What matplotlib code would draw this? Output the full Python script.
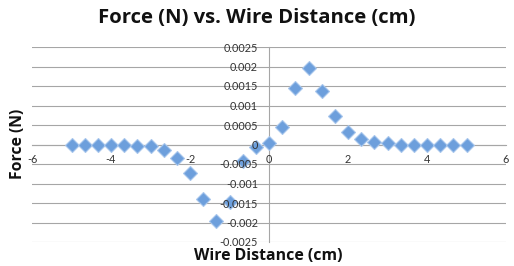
import matplotlib
matplotlib.use("Agg")
import matplotlib.pyplot as plt

plt.rcParams['font.family'] = ['Lato', 'DejaVu Sans']

distance_cm = [-5, -4.667, -4.333, -4, -3.667, -3.333, -3, -2.667, -2.333, -2,
               -1.667, -1.333, -1, -0.667, -0.333, 0, 0.333, 0.667, 1, 1.333,
               1.667, 2, 2.333, 2.667, 3, 3.333, 3.667, 4, 4.333, 4.667, 5]
force_n = [0.0, 0.0, 0.0, -0.00002, -0.00002, -0.00003, -0.00005, -0.00015, -0.00034, -0.00072,
           -0.0014, -0.00197, -0.00147, -0.00042, -0.00006, 0.00004, 0.00044, 0.00145, 0.00197, 0.00138,
           0.00073, 0.00032, 0.00015, 0.00007, 0.00003, 0.0, 0.0, 0.0, 0.0, 0.0, 0.0]

x_ticks = [-6, -4, -2, 0, 2, 4, 6]
y_ticks = [-0.0025, -0.002, -0.0015, -0.001, -0.0005, 0, 0.0005, 0.001, 0.0015, 0.002, 0.0025]
y_tick_labels = ['-0.0025', '-0.002', '-0.0015', '-0.001', '-0.0005', '0',
                 '0.0005', '0.001', '0.0015', '0.002', '0.0025']

W, H = 514, 266
fig = plt.figure(figsize=(W / 100, H / 100), dpi=100)
ax = fig.add_axes([32 / W, 1 - 242 / H, (506 - 32) / W, (242 - 47) / H])

ax.set_xlim(-6, 6)
ax.set_ylim(-0.0025, 0.0025)

grid_color = '#a6a6a6'
for yv in y_ticks:
    ax.axhline(yv, color=grid_color, lw=0.8, zorder=1)

for s in ['top', 'right']:
    ax.spines[s].set_visible(False)
for s in ['left', 'bottom']:
    ax.spines[s].set_position(('data', 0))
    ax.spines[s].set_color(grid_color)
    ax.spines[s].set_linewidth(0.8)
    ax.spines[s].set_zorder(1.2)

ax.set_xticks(x_ticks)
ax.set_xticklabels([str(v) for v in x_ticks])
ax.set_yticks(y_ticks)
ax.set_yticklabels(y_tick_labels)
ax.tick_params(axis='both', length=0, labelsize=7.8, colors='#333333')
ax.tick_params(axis='y', pad=8)
ax.tick_params(axis='x', pad=7)
ax.xaxis.set_zorder(4)
ax.yaxis.set_zorder(4)

ax.plot(distance_cm, force_n, linestyle='none', marker='D', markersize=7,
        markerfacecolor='#6d9fdc', markeredgecolor='#a8c6ec', markeredgewidth=0.8,
        zorder=3, clip_on=False)

fig.text(256.5 / W, 1 - 18 / H, 'Force (N) vs. Wire Distance (cm)', ha='center', va='center',
         fontsize=14.6, fontweight='bold', color='#111111', family=['Open Sans', 'DejaVu Sans'])
fig.text(268 / W, 1 - 256 / H, 'Wire Distance (cm)', ha='center', va='center',
         fontsize=11.4, fontweight='bold', color='#111111', family=['Open Sans', 'DejaVu Sans'])
fig.text(18 / W, 1 - 144 / H, 'Force (N)', ha='center', va='center', rotation=90,
         fontsize=11.3, fontweight='bold', color='#111111', family=['Open Sans', 'DejaVu Sans'])

fig.savefig('out.png', dpi=100)
